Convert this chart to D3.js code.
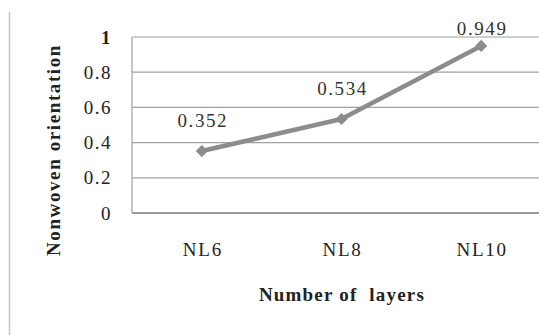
<!DOCTYPE html>
<html>
<head>
<meta charset="utf-8">
<script src="https://cdn.jsdelivr.net/npm/d3@7"></script>
<style>
  html, body { margin: 0; padding: 0; background: #fff; }
  svg { display: block; }
</style>
</head>
<body>
<script>
// Nonwoven orientation by number of layers
const categories = ["NL6", "NL8", "NL10"];
const values = [0.352, 0.534, 0.949];
const yTicks = [0, 0.2, 0.4, 0.6, 0.8, 1];
const yTickLabels = ["0", "0.2", "0.4", "0.6", "0.8", "1"];
const valueLabels = ["0.352", "0.534", "0.949"];

const W = 539, H = 335;
const plot = { left: 132, right: 551, top: 37, bottom: 213 };
const SERIF = "Liberation Serif";

const svg = d3.select("body").append("svg")
  .attr("width", W).attr("height", H)
  .attr("font-family", SERIF);

// frame line on the left side of the figure
svg.append("line")
  .attr("x1", 9.5).attr("x2", 9.5).attr("y1", 12).attr("y2", H)
  .attr("stroke", "#c4c4c4").attr("stroke-width", 1.5);

const x = d3.scaleBand().domain(categories).range([plot.left, plot.right]);
const y = d3.scaleLinear().domain([0, 1]).range([plot.bottom, plot.top]);
const cx = c => x(c) + x.bandwidth() / 2;

// horizontal gridlines
svg.append("g").selectAll("line")
  .data(yTicks.filter(d => d > 0))
  .join("line")
  .attr("x1", plot.left).attr("x2", W)
  .attr("y1", d => y(d)).attr("y2", d => y(d))
  .attr("stroke", "#a0a0a0").attr("stroke-width", 1.2);

// left plot border
svg.append("line")
  .attr("x1", plot.left).attr("x2", plot.left)
  .attr("y1", plot.top).attr("y2", plot.bottom)
  .attr("stroke", "#a0a0a0").attr("stroke-width", 1.2);

// category axis line
svg.append("line")
  .attr("x1", plot.left).attr("x2", W)
  .attr("y1", y(0)).attr("y2", y(0))
  .attr("stroke", "#9a9a9a").attr("stroke-width", 2.2);

// y tick labels
svg.append("g").selectAll("text")
  .data(yTicks)
  .join("text")
  .attr("x", 112)
  .attr("y", d => y(d))
  .attr("dy", "0.35em")
  .attr("text-anchor", "end")
  .attr("font-family", SERIF)
  .attr("font-size", 19)
  .attr("letter-spacing", 1.5)
  .attr("fill", "#222")
  .attr("font-weight", (d, i) => yTickLabels[i] === "1" ? "bold" : "normal")
  .text((d, i) => yTickLabels[i]);

// category labels
svg.append("g").selectAll("text")
  .data(categories)
  .join("text")
  .attr("x", d => cx(d) + 1)
  .attr("y", 256)
  .attr("text-anchor", "middle")
  .attr("font-family", SERIF)
  .attr("font-size", 19)
  .attr("letter-spacing", 1.8)
  .attr("fill", "#222")
  .text(d => d);

// series line
const line = d3.line()
  .x((d, i) => cx(categories[i]))
  .y(d => y(d));

svg.append("path")
  .datum(values)
  .attr("d", line)
  .attr("fill", "none")
  .attr("stroke", "#8c8c8c")
  .attr("stroke-width", 4.5)
  .attr("stroke-linejoin", "round");

// diamond markers
svg.append("g").selectAll("path")
  .data(values)
  .join("path")
  .attr("transform", (d, i) => `translate(${cx(categories[i])},${y(d)})`)
  .attr("d", d3.symbol(d3.symbolDiamond2 || d3.symbolDiamond, 95))
  .attr("fill", "#8c8c8c");

// value labels, kept inside the top of the plot
svg.append("g").selectAll("text")
  .data(values)
  .join("text")
  .attr("x", (d, i) => cx(categories[i]) + 1)
  .attr("y", d => Math.max(y(d) - 24, 35))
  .attr("text-anchor", "middle")
  .attr("font-family", SERIF)
  .attr("font-size", 19)
  .attr("letter-spacing", 1.6)
  .attr("fill", "#333")
  .text((d, i) => valueLabels[i]);

// axis titles
svg.append("text")
  .attr("transform", "translate(60,150) rotate(-90)")
  .attr("text-anchor", "middle")
  .attr("font-family", SERIF)
  .attr("font-size", 19)
  .attr("letter-spacing", 1.6)
  .attr("font-weight", "bold")
  .attr("fill", "#222")
  .text("Nonwoven orientation");

svg.append("text")
  .attr("x", 342).attr("y", 301)
  .attr("text-anchor", "middle")
  .attr("font-family", SERIF)
  .attr("font-size", 19)
  .attr("letter-spacing", 1.2)
  .attr("font-weight", "bold")
  .attr("fill", "#222")
  .style("white-space", "pre")
  .text("Number of  layers");
</script>
</body>
</html>
